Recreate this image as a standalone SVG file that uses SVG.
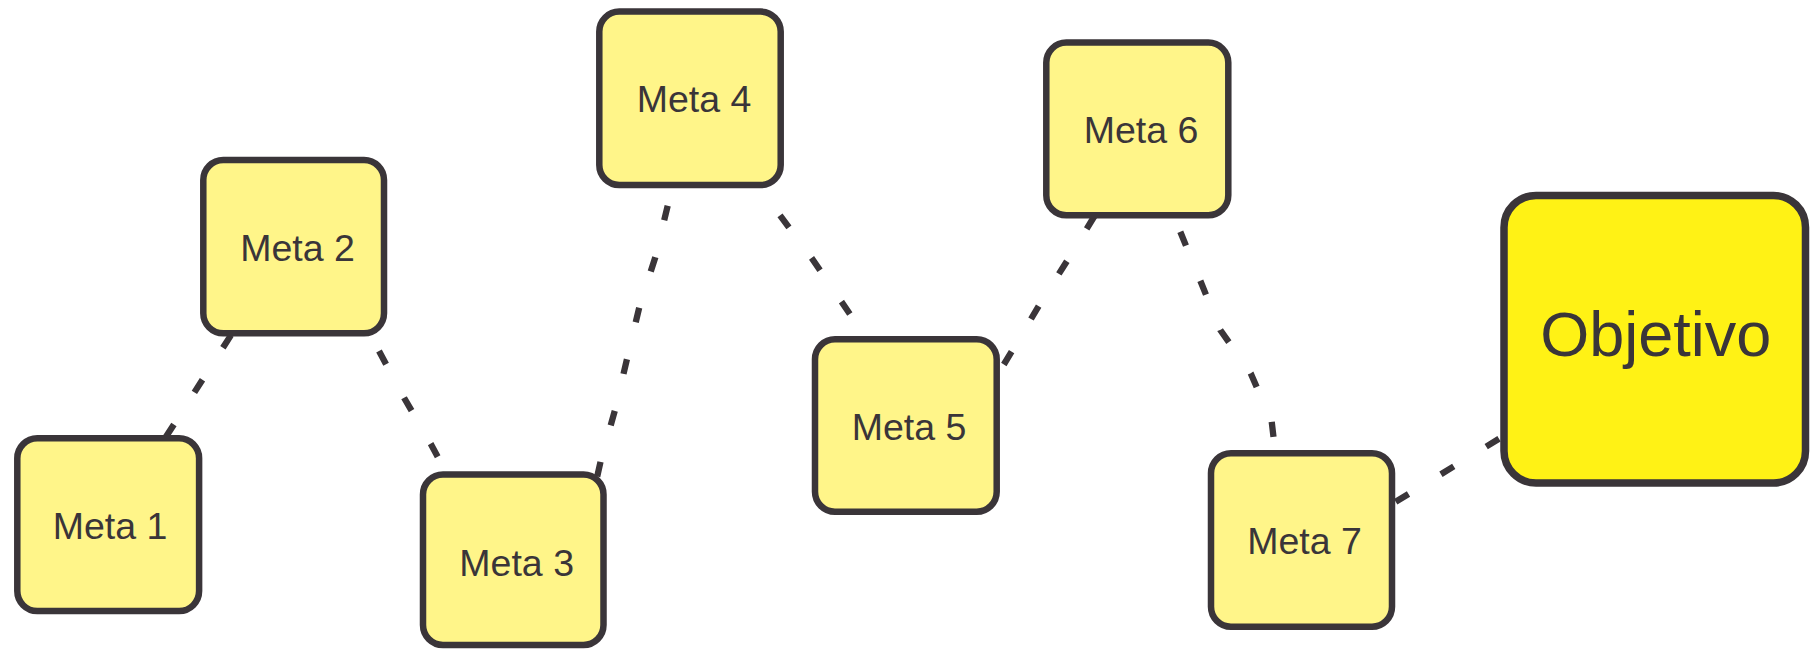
<svg xmlns="http://www.w3.org/2000/svg" width="1810" height="649" viewBox="0 0 1810 649">
<style>
.meta rect{fill:#fff589;stroke:#3a3539;stroke-width:6.5}
.goal rect{fill:#fff215;stroke:#3a3539;stroke-width:7.5}
text{font-family:"Liberation Sans",Arial,sans-serif;fill:#3a3539;text-anchor:middle}
.meta text{font-size:37.5px}
.goal text{font-size:63px}
.conn path{fill:none;stroke:#3a3539;stroke-width:6.3;stroke-dasharray:15 38}
</style>
<rect width="1810" height="649" fill="#ffffff"/>
<g id="connectors" class="conn">
<path d="M231,335.1 L174,424.3 L160,446"/>
<path d="M379,351 L404.2,398 L430.7,443.7 L450,480"/>
<path d="M667.7,205.7 L655.3,257.3 L639.3,307.3 L627,359 L615,410 L600.7,461 L596,482"/>
<path d="M780,215.3 L812,258.5 L841.7,302 L871,345.5"/>
<path d="M1094.5,216 L1067,261 L1038.7,306 L1012,351 L992,384"/>
<path d="M1180.3,231.7 L1200.3,280.7 L1220.3,330 L1250.7,373.3 L1271.7,421.7 L1276,458"/>
<path d="M1395.7,501.8 L1520,426"/>
</g>
<g id="meta1" class="meta"><rect x="17.3" y="438.3" width="181.8" height="172.8" rx="20"/><text x="110" y="539">Meta 1</text></g>
<g id="meta2" class="meta"><rect x="203.3" y="160" width="180.7" height="173.3" rx="20"/><text x="297.5" y="260.7">Meta 2</text></g>
<g id="meta3" class="meta"><rect x="423" y="474.5" width="180.5" height="170.5" rx="20"/><text x="516.7" y="575.5">Meta 3</text></g>
<g id="meta4" class="meta"><rect x="599.3" y="11.6" width="181.4" height="173.4" rx="20"/><text x="694" y="111.8">Meta 4</text></g>
<g id="meta5" class="meta"><rect x="815" y="339.3" width="181.7" height="172.4" rx="20"/><text x="909" y="439.6">Meta 5</text></g>
<g id="meta6" class="meta"><rect x="1046.3" y="42.6" width="182" height="172.6" rx="20"/><text x="1141" y="142.8">Meta 6</text></g>
<g id="meta7" class="meta"><rect x="1211" y="453.3" width="181" height="173.4" rx="20"/><text x="1304.5" y="554">Meta 7</text></g>
<g id="objetivo" class="goal"><rect x="1504" y="195.4" width="301.5" height="287.6" rx="32"/><text x="1655.7" y="356">Objetivo</text></g>
</svg>
